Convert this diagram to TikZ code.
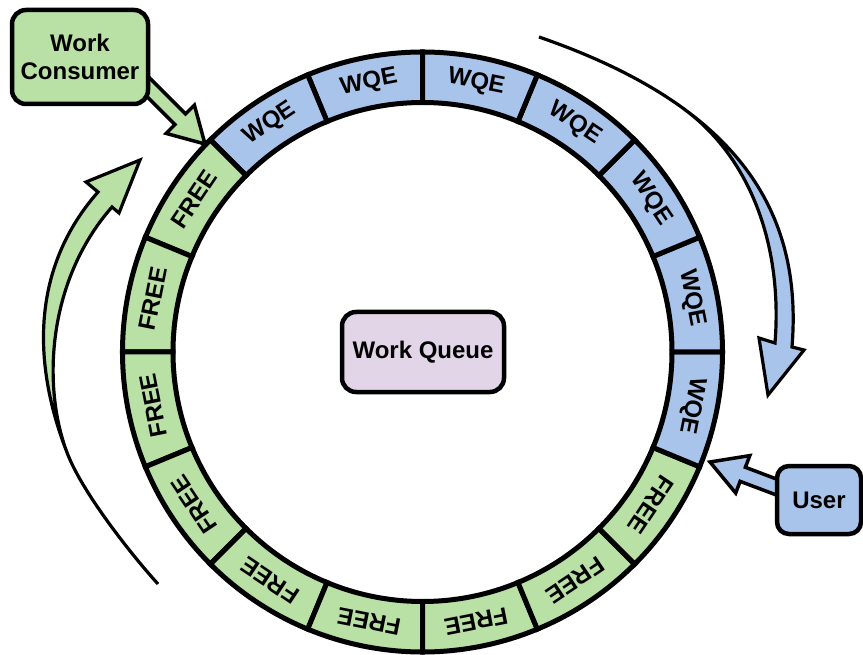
\documentclass[tikz,border=0pt]{standalone}
\usepackage{fontspec}
\setmainfont{Liberation Sans}
\usetikzlibrary{calc}

\definecolor{qgreen}{HTML}{B9E0A5}
\definecolor{qblue}{HTML}{A9C4EB}
\definecolor{qpurple}{HTML}{E1D5E7}

% Fat outlined arrow from #2 (foot) to #3 (tip), drawn with style #1
\newcommand\blockarrow[3]{%
  \draw[#1] let \p1=($(#3)-(#2)$), \n1={atan2(\y1,\x1)} in
    (#3)
    -- ($(#3)+(\n1+180:35pt)+(\n1+90:20pt)$)
    -- ($(#3)+(\n1+180:35pt)+(\n1+90:7.5pt)$)
    -- ($(#2)+(\n1+90:7.5pt)$)
    -- ($(#2)+(\n1-90:7.5pt)$)
    -- ($(#3)+(\n1+180:35pt)+(\n1-90:7.5pt)$)
    -- ($(#3)+(\n1+180:35pt)+(\n1-90:20pt)$)
    -- cycle;}

\begin{document}
\begin{tikzpicture}[x=1pt,y=1pt,
  labelfont/.style={font=\fontsize{24pt}{28pt}\selectfont\bfseries},
  ringseg/.style={draw=black, line width=5pt, line join=miter},
  wqe/.style={fill=qblue},
  free/.style={fill=qgreen},
  seglabel/.style={labelfont, inner sep=0pt},
  box/.style={draw=black, line width=4.5pt, rounded corners=14pt, align=center,
              labelfont, inner sep=0pt},
  fatarrow/.style={draw=black, line width=3.5pt, line join=miter},
  sweep/.style={draw=black, line width=3.2pt, line join=miter, line cap=butt}
]
\useasboundingbox (0,-655) rectangle (863,0);

% ring of 16 slots
\coordinate (C) at (422.5,-352);
\foreach \i in {0,...,15}{
  \pgfmathsetmacro\segA{90+22.5*\i}
  \pgfmathsetmacro\segB{\segA+22.5}
  \pgfmathsetmacro\segM{\segA+11.25}
  \ifnum\i<2 \def\segKind{wqe}\def\segText{WQE}%
  \else\ifnum\i>10 \def\segKind{wqe}\def\segText{WQE}%
  \else\def\segKind{free}\def\segText{FREE}\fi\fi
  \draw[ringseg, \segKind] ($(C)+(\segA:300)$)
    arc[start angle=\segA, end angle=\segB, radius=300]
    -- ($(C)+(\segB:249.5)$)
    arc[start angle=\segB, end angle=\segA, radius=249.5] -- cycle;
  \node[seglabel, rotate=\segM-90] (seg\i) at ($(C)+(\segM:274.75)$) {\segText};
}

% sweeping arrow on the right (producer direction)
\fill[qblue] (683.8,-108.9) .. controls (770.7,-172.2) and (799.7,-252.5) .. (792,-347)
  -- (804,-350) -- (768,-395) -- (759,-338) -- (775,-343)
  .. controls (783,-243) and (748.6,-156.1) .. (683.8,-108.9) -- cycle;
\draw[sweep] (539,-37) .. controls (739,-106) and (803,-212) .. (792,-347)
  -- (804,-350) -- (768,-395) -- (759,-338) -- (775,-343)
  .. controls (783,-243) and (748.6,-156.1) .. (683.8,-108.9);

% sweeping arrow on the left (consumer direction)
\fill[qgreen] (68,-455) .. controls (31,-362) and (32,-267) .. (98,-192)
  -- (86,-182) -- (140,-160) -- (119,-213) -- (112,-207)
  .. controls (46,-282) and (42.1,-389.9) .. (68,-455) -- cycle;
\draw[sweep] (158,-584) .. controls (127.9,-550.7) and (82.8,-492.2) .. (68,-455)
  .. controls (31,-362) and (32,-267) .. (98,-192)
  -- (86,-182) -- (140,-160) -- (119,-213) -- (112,-207)
  .. controls (46,-282) and (42.1,-389.9) .. (68,-455);

% pointers into the ring
\coordinate (consFoot) at (137,-76);
\coordinate (consTip) at (205,-144);
\coordinate (userFoot) at (795,-494);
\coordinate (userTip) at (710,-462);
\blockarrow{fatarrow, fill=qgreen}{consFoot}{consTip}
\blockarrow{fatarrow, fill=qblue}{userFoot}{userTip}

% boxes
\node[box, fill=qgreen, minimum width=136pt, minimum height=94pt] (consumer) at (80,-57) {Work\\Consumer};
\node[box, fill=qblue, minimum width=84pt, minimum height=68pt, rounded corners=12pt] (user) at (819,-500) {User};
\node[box, fill=qpurple, minimum width=162pt, minimum height=80pt] (queue) at (423,-352) {Work Queue};
\end{tikzpicture}
\end{document}
